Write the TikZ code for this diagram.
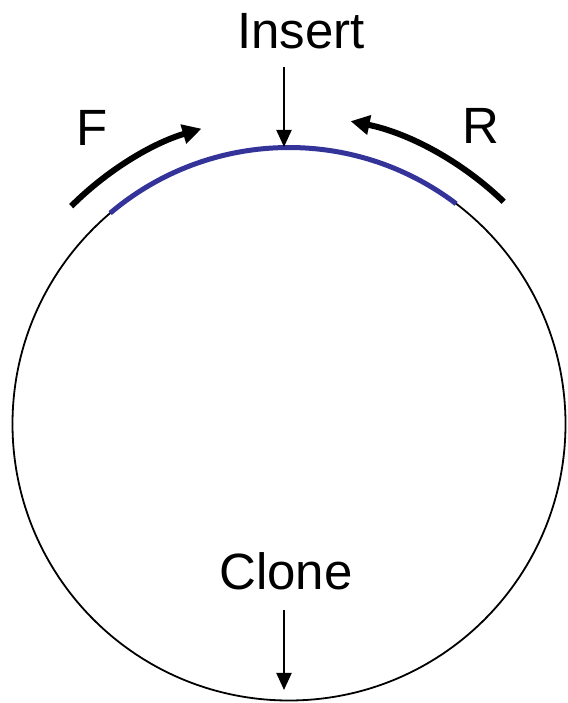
\documentclass[tikz,border=0pt]{standalone}
\usepackage{fontspec}
\setmainfont{Liberation Sans}
\usetikzlibrary{arrows.meta}
\definecolor{insblue}{RGB}{51,51,153}
\tikzset{
  lbl/.style={font=\fontsize{51}{60}\selectfont, anchor=base, inner sep=0pt},
  thinarrow/.style={line width=2pt, -{Triangle[length=17pt,width=15pt]}},
  primer/.style={line width=6pt, -{Triangle[length=19pt,width=19pt]}},
  insertarc/.style={line width=5pt, draw=insblue},
  plasmid/.style={line width=1.8pt}
}
\begin{document}
\begin{tikzpicture}[x=1pt,y=1pt]
\useasboundingbox (0,0) rectangle (567,703);
\coordinate (c) at (289,279);
% plasmid circle
\draw[plasmid] (c) circle[radius=276.5];
% insert (blue arc)
\draw[insertarc] (c) ++(130.3:276.5) arc[start angle=130.3, end angle=52.8, radius=276.5];
% primers
\draw[primer] (c) ++(135:308) arc[start angle=135, end angle=106.5, radius=308];
\draw[primer] (c) ++(46:309) arc[start angle=46, end angle=78.5, radius=309];
% labels
\node[lbl] (ins) at (301,654) {Insert};
\node[lbl] (clone) at (286,113) {Clone};
\node[lbl] (f) at (92,557) {F};
\node[lbl] (r) at (481,559) {R};
% arrows
\coordinate (insstart) at (284,636);
\coordinate (instip) at (284,556);
\coordinate (clstart) at (284,93);
\coordinate (cltip) at (284,13);
\draw[thinarrow] (insstart) -- (instip);
\draw[thinarrow] (clstart) -- (cltip);
\end{tikzpicture}
\end{document}
